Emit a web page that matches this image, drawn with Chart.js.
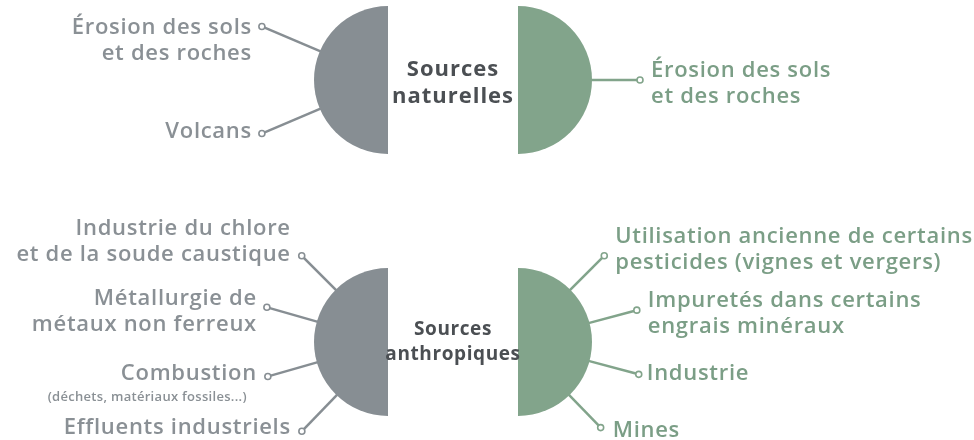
<!DOCTYPE html>
<html lang="fr">
<head>
<meta charset="utf-8">
<script src="https://cdn.jsdelivr.net/npm/chart.js@4.4.1/dist/chart.umd.min.js"></script>
<style>
  html, body { margin: 0; background: #fff; }
  #wrap { position: relative; width: 974px; height: 440px; }
  #wrap canvas { position: absolute; left: 0; top: 0; }
</style>
</head>
<body>
<div id="wrap">
  <canvas id="natGris" width="974" height="440"></canvas>
  <canvas id="natVert" width="974" height="440"></canvas>
  <canvas id="anthGris" width="974" height="440"></canvas>
  <canvas id="anthVert" width="974" height="440"></canvas>
</div>
<script>
// groupes de sources (texte au centre de chaque ligne)
const groupes = ['Sources\nnaturelles', 'Sources\nanthropiques'];
// les deux moitiés de chaque ligne
const moities = ['gris', 'vert'];

// sources listées autour de chaque demi-disque
const naturellesGris = ['Érosion des sols\net des roches', 'Volcans'];
const naturellesVert = ['Érosion des sols\net des roches'];
const anthropiquesGris = ['Industrie du chlore\net de la soude caustique', 'Métallurgie de\nmétaux non ferreux', 'Combustion', 'Effluents industriels'];
const anthropiquesVert = ['Utilisation ancienne de certains\npesticides (vignes et vergers)', 'Impuretés dans certains\nengrais minéraux', 'Industrie', 'Mines'];
const precisions = { 'Combustion': '(déchets, matériaux fossiles...)' };

// chaque demi-disque = une moitié égale de la ligne
const partNaturelles = [1, 1];
const partAnthropiques = [1, 1];

const GRIS = '#878e93', GRIS_TXT = '#8a9095';
const VERT = '#82a48b', VERT_TXT = '#7b9e86';
const FONT = '"Open Sans", "Noto Sans", sans-serif';
const R = 74;

// placement des renvois : angle (deg), longueur du trait, décalage vertical du texte, écart au point
const renvois = {
  natGris: [{ a: 203, len: 63, dy: 1, gap: 10 }, { a: 157, len: 63, dy: -2, gap: 10 }],
  natVert: [{ a: 0, len: 48, dy: -9, gap: 11 }],
  anthGris: [
    { a: 225, len: 48, dy: -27, gap: 11 },
    { a: 196, len: 52, dy: -9, gap: 10 },
    { a: 164, len: 51, dy: -3, gap: 11 },
    { a: 134, len: 50, dy: -3, gap: 11 }
  ],
  anthVert: [
    { a: -45, len: 48, dy: -19, gap: 11 },
    { a: -15, len: 49, dy: -9, gap: 11 },
    { a: 15, len: 51, dy: -1, gap: 8 },
    { a: 46, len: 45, dy: 3, gap: 12 }
  ]
};

const sources = {
  natGris: naturellesGris, natVert: naturellesVert,
  anthGris: anthropiquesGris, anthVert: anthropiquesVert
};

// liens entre demi-disques pour centrer le texte du groupe
const partenaires = {};

const renvoisPlugin = {
  id: 'renvois',
  afterDatasetsDraw(chart) {
    const id = chart.canvas.id;
    const items = renvois[id];
    const labels = sources[id];
    const couleur = chart.data.datasets[0].backgroundColor;
    const texte = couleur === GRIS ? GRIS_TXT : VERT_TXT;
    const ctx = chart.ctx;
    const arc = chart.getDatasetMeta(0).data[0];
    const cx = arc.x, cy = arc.y, r = arc.outerRadius;
    ctx.save();
    items.forEach((it, i) => {
      const t = it.a * Math.PI / 180;
      const c = Math.cos(t), s = Math.sin(t);
      const dx = cx + (r + it.len) * c, dy = cy + (r + it.len) * s;
      ctx.strokeStyle = couleur;
      ctx.lineWidth = 2.5;
      ctx.beginPath();
      ctx.moveTo(cx + (r - 2) * c, cy + (r - 2) * s);
      ctx.lineTo(dx - 3 * c, dy - 3 * s);
      ctx.stroke();
      ctx.lineWidth = 1.6;
      ctx.fillStyle = '#fff';
      ctx.beginPath();
      ctx.arc(dx, dy, 3, 0, Math.PI * 2);
      ctx.fill();
      ctx.stroke();

      const left = c < 0;
      const tx = left ? dx - it.gap : dx + it.gap;
      ctx.fillStyle = texte;
      ctx.textAlign = left ? 'right' : 'left';
      ctx.textBaseline = 'middle';
      ctx.font = '600 22px ' + FONT;
      ctx.letterSpacing = '0.7px';
      const lines = labels[i].split('\n');
      lines.forEach((ln, k) => ctx.fillText(ln, tx, dy + it.dy + k * 26));
      const note = precisions[labels[i]];
      if (note) {
        ctx.font = '600 13px ' + FONT;
        ctx.letterSpacing = '0.3px';
        ctx.fillText(note, tx - 10, dy + it.dy + 24);
      }
    });

    const g = partenaires[id];
    if (g) {
      const a = g.chart.getDatasetMeta(0).data[0];
      const x = (a.x + arc.x) / 2, y = (a.y + arc.y) / 2;
      const gl = g.text.split('\n');
      ctx.fillStyle = '#4b4f53';
      ctx.textAlign = 'center';
      ctx.textBaseline = 'middle';
      ctx.font = '700 ' + g.size + 'px ' + FONT;
      ctx.letterSpacing = g.ls + 'px';
      gl.forEach((ln, k) => ctx.fillText(ln, x, y + g.dy + (k - (gl.length - 1) / 2) * g.lh));
    }
    ctx.restore();
  }
};

function demiDisque(id, part, couleur, cote, cx, cy) {
  return new Chart(document.getElementById(id), {
    type: 'pie',
    data: {
      labels: [id],
      datasets: [{ data: part, backgroundColor: couleur, borderWidth: 0, hoverOffset: 0, hoverBorderWidth: 0 }]
    },
    options: {
      responsive: false,
      animation: false,
      events: [],
      rotation: cote === 'gauche' ? 180 : 0,
      circumference: 180,
      layout: {
        padding: cote === 'gauche'
          ? { left: cx - R, right: 974 - cx, top: cy - R, bottom: 440 - cy - R }
          : { left: cx, right: 974 - cx - R, top: cy - R, bottom: 440 - cy - R }
      },
      plugins: { legend: { display: false }, tooltip: { enabled: false } }
    },
    plugins: [renvoisPlugin]
  });
}

const c1 = demiDisque('natGris', [partNaturelles[0]], GRIS, 'gauche', 388, 80);
partenaires.natVert = { chart: c1, text: groupes[0], size: 22, ls: 1, lh: 27, dy: 3 };
demiDisque('natVert', [partNaturelles[1]], VERT, 'droite', 518, 80);
const c3 = demiDisque('anthGris', [partAnthropiques[0]], GRIS, 'gauche', 388, 342);
partenaires.anthVert = { chart: c3, text: groupes[1], size: 19, ls: 0.6, lh: 25, dy: 0 };
demiDisque('anthVert', [partAnthropiques[1]], VERT, 'droite', 518, 342);
</script>
</body>
</html>
